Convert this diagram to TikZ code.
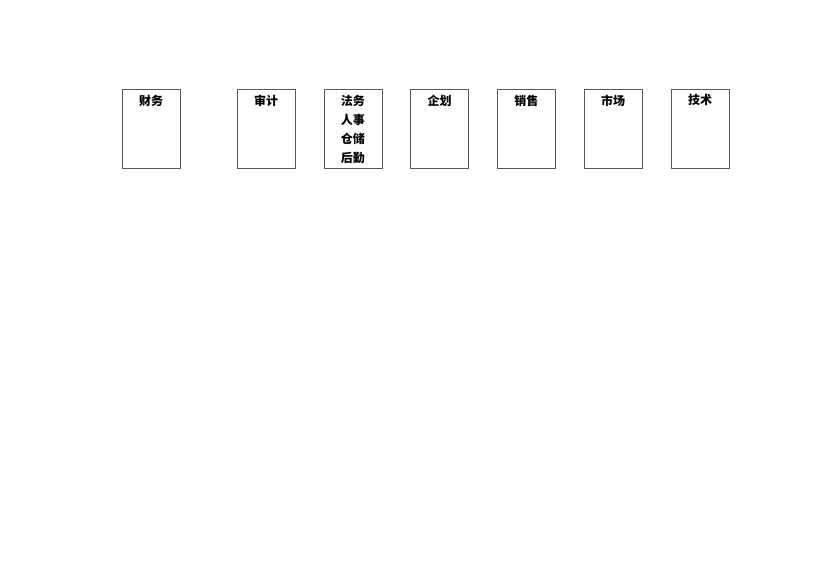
\documentclass[tikz,border=0pt]{standalone}
\usepackage{fontspec}
\setmainfont{Noto Sans CJK SC}
\usetikzlibrary{positioning}
\tikzset{
x=1pt, y=1pt, % one unit is one pixel of the page
node distance=28.2pt, % gap between two boxes
dept/.style={draw=black!65, line width=0.6pt, minimum width=58pt, minimum height=79pt, inner sep=0pt}, % sets the look of each department box
title/.style={label={[font=\bfseries\fontsize{12}{19.3}\selectfont, align=center, anchor=north, yshift=-2.5pt]north:#1}}, % text at the top of a box
}
\begin{document}
\begin{tikzpicture}
      \useasboundingbox (0,0) rectangle (830,-587);
      \node[dept, title=财务] (finance) at (151,-128.5) {};
      \node[dept, title=审计, right=56.4pt of finance] (audit) {};
      \node[dept, title={法务\\人事\\仓储\\后勤}, right=of audit] (admin) {};
      \node[dept, title=企划, right=of admin] (plan) {};
      \node[dept, title=销售, right=of plan] (sales) {};
      \node[dept, title=市场, right=of sales] (market) {};
      \node[dept, title=技术, right=of market] (tech) {};
    \end{tikzpicture}
\end{document}
